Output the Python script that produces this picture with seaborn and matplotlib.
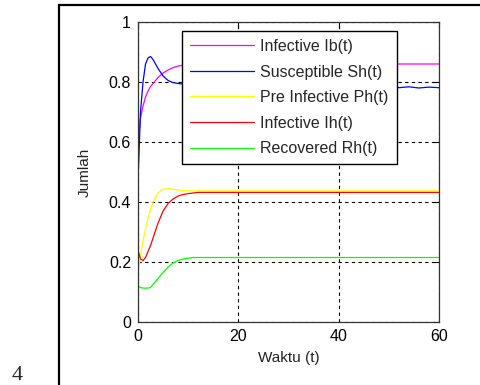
import pandas as pd
import seaborn as sns
import matplotlib.pyplot as plt
from matplotlib.patches import Rectangle

# time grid (days) and the five model outputs
waktu = [0, 0.5, 1, 1.5, 2, 2.5, 3, 4, 5, 6, 7, 8, 9, 10, 11, 12,
         15, 20, 25, 30, 35, 40, 45, 50, 52, 54, 56, 58, 60]
ib = [0.60, 0.68, 0.72, 0.75, 0.77, 0.785, 0.795, 0.815, 0.83, 0.84, 0.848, 0.853, 0.856, 0.858, 0.859, 0.86,
      0.86, 0.86, 0.86, 0.86, 0.86, 0.86, 0.86, 0.86, 0.86, 0.86, 0.86, 0.86, 0.86]
sh = [0.47, 0.70, 0.80, 0.86, 0.88, 0.885, 0.875, 0.845, 0.82, 0.805, 0.798, 0.795, 0.793, 0.792, 0.79, 0.79,
      0.789, 0.788, 0.787, 0.786, 0.786, 0.785, 0.785, 0.786, 0.781, 0.784, 0.78, 0.783, 0.781]
ph = [0.165, 0.22, 0.27, 0.31, 0.345, 0.375, 0.40, 0.43, 0.442, 0.445, 0.443, 0.44, 0.438, 0.437, 0.437, 0.437,
      0.437, 0.437, 0.437, 0.437, 0.437, 0.437, 0.437, 0.437, 0.437, 0.437, 0.437, 0.437, 0.437]
ih = [0.24, 0.21, 0.205, 0.215, 0.235, 0.255, 0.28, 0.33, 0.37, 0.395, 0.41, 0.42, 0.425, 0.428, 0.43, 0.432,
      0.432, 0.432, 0.432, 0.432, 0.432, 0.432, 0.432, 0.432, 0.432, 0.432, 0.432, 0.432, 0.432]
rh = [0.12, 0.115, 0.113, 0.113, 0.113, 0.115, 0.125, 0.145, 0.165, 0.183, 0.197, 0.205, 0.21, 0.213, 0.215, 0.215,
      0.215, 0.215, 0.215, 0.215, 0.215, 0.215, 0.215, 0.215, 0.215, 0.215, 0.215, 0.215, 0.215]

labels = ['Infective Ib(t)', 'Susceptible Sh(t)', 'Pre Infective Ph(t)', 'Infective Ih(t)', 'Recovered Rh(t)']
colors = ['#ff00ff', '#0000ff', '#ffff00', '#ff0000', '#00ff00']

frames = []
for lab, vals in zip(labels, [ib, sh, ph, ih, rh]):
    frames.append(pd.DataFrame({'Waktu': waktu, 'Jumlah': vals, 'seri': lab}))
df = pd.concat(frames, ignore_index=True)

sns.set_style("white")
plt.rcParams['font.family'] = ['Liberation Sans', 'DejaVu Sans']

fig = plt.figure(figsize=(4.8, 3.85), dpi=100)
ax = fig.add_axes([138 / 480, 63 / 385, 301 / 480, 300 / 385])

sns.lineplot(data=df, x='Waktu', y='Jumlah', hue='seri', hue_order=labels,
             palette=colors, linewidth=0.9, ax=ax, sort=True)

ax.set_xlim(0, 60)
ax.set_ylim(0, 1)
ax.set_xticks([0, 20, 40, 60])
ax.set_yticks([0, 0.2, 0.4, 0.6, 0.8, 1])
ax.set_xticklabels(['0', '20', '40', '60'])
ax.set_yticklabels(['0', '0.2', '0.4', '0.6', '0.8', '1'])
ax.grid(True, color='black', linestyle=(0, (3, 3)), linewidth=0.8)
ax.set_axisbelow(True)
ax.tick_params(direction='in', length=4, width=0.8, top=True, right=True,
               labelsize=11.5, colors='black', pad=5)
for s in ax.spines.values():
    s.set_color('#333333')
    s.set_linewidth(0.9)
ax.set_xlabel('Waktu (t)', fontsize=11, color='#222222', labelpad=5)
ax.set_ylabel('Jumlah', fontsize=11, color='#222222', labelpad=12)

leg = ax.legend(loc='upper left', bbox_to_anchor=(0.146, 0.97), borderaxespad=0,
                fancybox=False, framealpha=1, edgecolor='black', fontsize=11.5,
                handlelength=4.0, handletextpad=0.4, labelspacing=0.66,
                borderpad=0.5, title=None)
leg.get_frame().set_linewidth(1.0)

# page frame and figure number from the document
fig.add_artist(Rectangle((59 / 480, -0.1), 1.0, 1.1 - 5 / 385, transform=fig.transFigure,
                         fill=False, edgecolor='black', linewidth=1.6))
fig.text(17 / 480, 1 - 376 / 385, '4', family=['Liberation Serif', 'DejaVu Serif'],
         fontsize=16, ha='center', va='center')

fig.savefig('out.png', dpi=100)
